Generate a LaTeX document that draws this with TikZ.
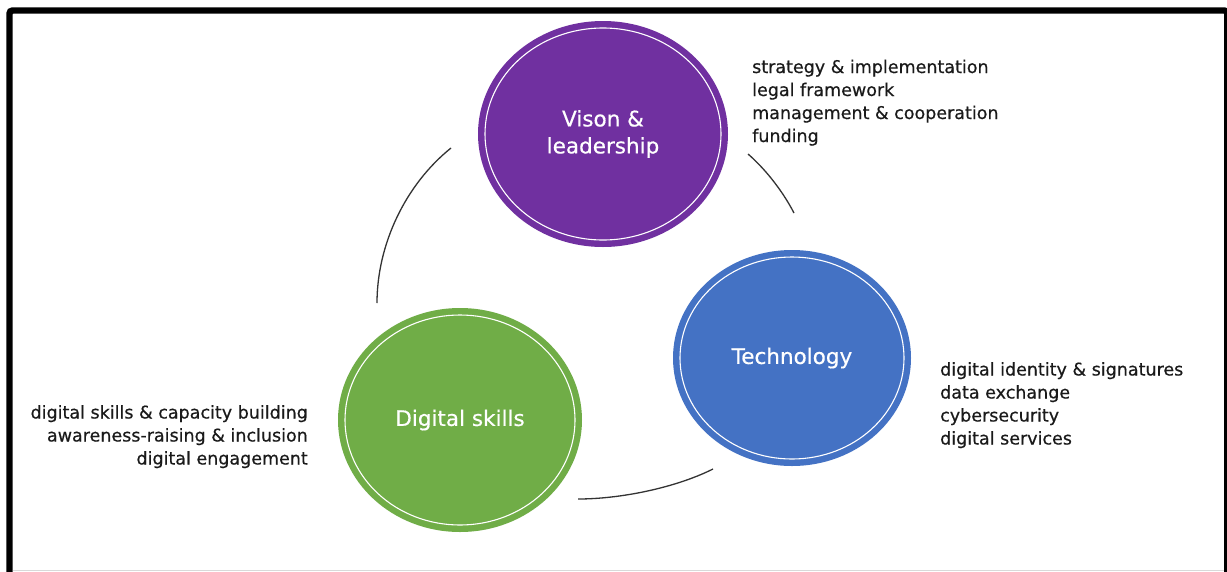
\documentclass[tikz,border=0pt]{standalone}
\usepackage{fontspec}
\setmainfont{DejaVu Sans}
\newfontfamily\heavyfont{DejaVu Sans}[FakeBold=0.5]
\usetikzlibrary{shapes.geometric}
\definecolor{vpurple}{HTML}{7030A0}
\definecolor{tblue}{HTML}{4472C4}
\definecolor{dgreen}{HTML}{70AD47}
\definecolor{txtgray}{HTML}{1A1A1A}
\definecolor{linkgray}{HTML}{333333}
\begin{document}
\begin{tikzpicture}[x=1pt,y=-1pt,
  pillar/.style={ellipse, inner sep=0pt, text=white, align=center,
    font=\heavyfont\fontsize{21.5}{27}\selectfont},
  ring/.style={draw=white, line width=1.1pt},
  listtxt/.style={inner sep=0pt, text=txtgray, font=\heavyfont\fontsize{17.5}{23}\selectfont},
  link/.style={draw=linkgray, line width=1.3pt}]
\useasboundingbox (0,0) rectangle (1227,571);
\fill[white] (0,0) rectangle (1227,571);
% frame
\draw[line width=6.4pt, rounded corners=3pt] (9.5,640) -- (9.5,10.5) -- (1227.3,10.5) -- (1227.3,640);
\draw[gray!30, line width=1.5pt] (12.7,570.3) -- (1224,570.3);

% pillars
\node[pillar, fill=vpurple, minimum width=250pt, minimum height=226pt] (vision) at (603,134) {Vison \&\\leadership};
\node[pillar, fill=tblue, minimum width=238pt, minimum height=216pt] (tech) at (792,358) {Technology};
\node[pillar, fill=dgreen, minimum width=244pt, minimum height=224pt] (skills) at (460,420) {Digital skills};
\draw[ring] (vision.center) ellipse [x radius=118, y radius=106];
\draw[ring] (tech.center) ellipse [x radius=112, y radius=101];
\draw[ring] (skills.center) ellipse [x radius=115, y radius=105];

% lists
\node[listtxt, anchor=north west, align=left] (visiontxt) at (752,59.5)
  {strategy \& implementation\\legal framework\\management \& cooperation\\funding};
\node[listtxt, anchor=north west, align=left] (techtxt) at (940,362)
  {digital identity \& signatures\\data exchange\\cybersecurity\\digital services};
\node[listtxt, anchor=north east, align=right] (skillstxt) at (308,405)
  {digital skills \& capacity building\\awareness-raising \& inclusion\\digital engagement};

% connecting arcs
\coordinate (a1s) at (377,303);
\coordinate (a1e) at (451,148);
\coordinate (a2s) at (748,154);
\coordinate (a2e) at (794,213);
\coordinate (a3s) at (578,499);
\coordinate (a3e) at (713,469);
\draw[link] (a1s) .. controls (377,245) and (405,185) .. (a1e);
\draw[link] (a2s) .. controls (763,167) and (781,188) .. (a2e);
\draw[link] (a3s) .. controls (620,499) and (675,488) .. (a3e);
\end{tikzpicture}
\end{document}
